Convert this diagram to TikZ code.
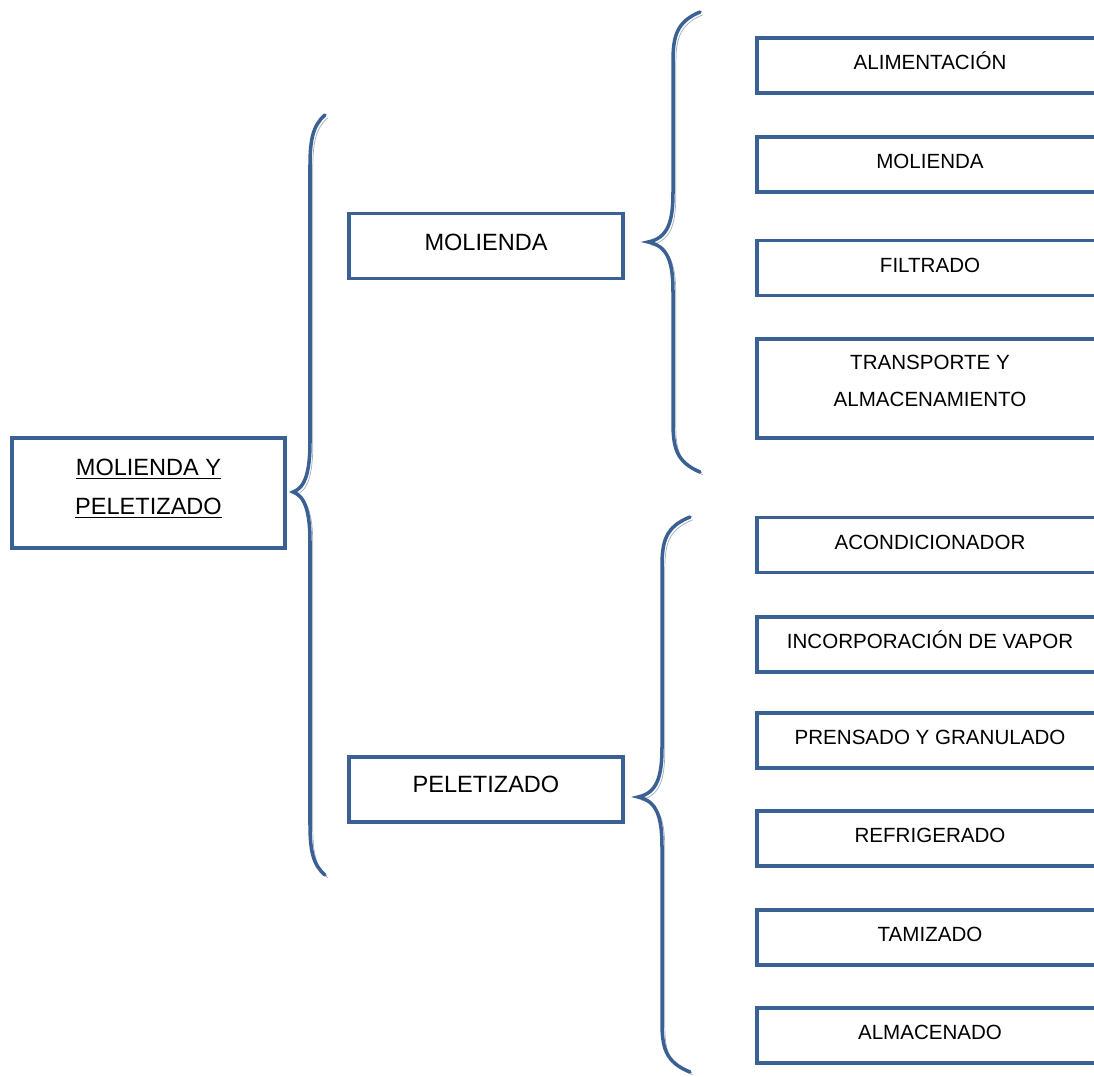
\documentclass[tikz,border=0pt]{standalone}
\usepackage{fontspec}
\setmainfont{Liberation Sans}
\usetikzlibrary{shadows}
\definecolor{boxblue}{RGB}{59,97,148}
\definecolor{boxshade}{RGB}{160,172,194}
\tikzset{x=0.02cm, y=-0.02cm,
    box/.style={
        draw=boxblue,
        line width=1.8pt,
        fill=white,
        drop shadow={shadow xshift=0.9pt, shadow yshift=-0.9pt,
            fill=boxshade, opacity=1},
        align=center},
    bigbox/.style={
        box,
        font=\fontsize{13.4}{22}\selectfont},
    item/.style={
        box,
        minimum width=6.92cm,
        minimum height=1.1cm,
        text height=9pt,
        text depth=4pt,
        font=\fontsize{11.7}{21}\selectfont},
    brace/.style={
        draw=boxblue,
        line width=2pt,
        line cap=round,
        preaction={draw=boxshade, transform canvas={shift={(1.6pt,-1.6pt)}}}}}
% tip x, tip y, spine x, end x, top y, bottom y
\newcommand{\drawbrace}[6]{%
    \draw[brace] (#4,#5) .. controls ({#3+3},{#5+10}) and (#3,{#5+25}) .. (#3,{#5+50})
        -- (#3,{#2-50}) .. controls (#3,{#2-20}) and ({#3-5},{#2-4}) .. (#1,#2)
        .. controls ({#3-5},{#2+4}) and (#3,{#2+20}) .. (#3,{#2+50})
        -- (#3,{#6-50}) .. controls (#3,{#6-25}) and ({#3+3},{#6-10}) .. (#4,#6);}

\begin{document}
\begin{tikzpicture}
        \useasboundingbox (0,0) rectangle (1094,1077);
        \clip (0,0) rectangle (1094,1077);

        \node[bigbox, minimum width=5.46cm, minimum height=2.2cm, text depth=7pt] (main) at (148.5,493)
            {\underline{MOLIENDA Y}\\\underline{PELETIZADO}};
        \node[bigbox, minimum width=5.48cm, minimum height=1.3cm,
            text height=10pt, text depth=5pt] (mol) at (486,246) {MOLIENDA};
        \node[bigbox, minimum width=5.48cm, minimum height=1.3cm,
            text height=10pt, text depth=7pt] (pel) at (486,789.5) {PELETIZADO};

        \node[item] (ali) at (930,65.5) {ALIMENTACIÓN};
        \node[item] (molr) at (930,164.5) {MOLIENDA};
        \node[item] (fil) at (930,268) {FILTRADO};
        \node[item, minimum height=1.98cm, text height=, text depth=9pt] (tra) at (930,388.5)
            {TRANSPORTE Y\\ALMACENAMIENTO};

        \node[item] (aco) at (930,545) {ACONDICIONADOR};
        \node[item] (inc) at (930,644.5) {INCORPORACIÓN DE VAPOR};
        \node[item] (pre) at (930,740.5) {PRENSADO Y GRANULADO};
        \node[item] (ref) at (930,838.5) {REFRIGERADO};
        \node[item] (tam) at (930,937.5) {TAMIZADO};
        \node[item] (alm) at (930,1035.5) {ALMACENADO};

        \drawbrace{293}{492}{310}{325}{115}{875}
        \drawbrace{648}{242}{673}{700}{12}{472}
        \drawbrace{638}{797}{662}{690}{517}{1072}
\end{tikzpicture}
\end{document}
